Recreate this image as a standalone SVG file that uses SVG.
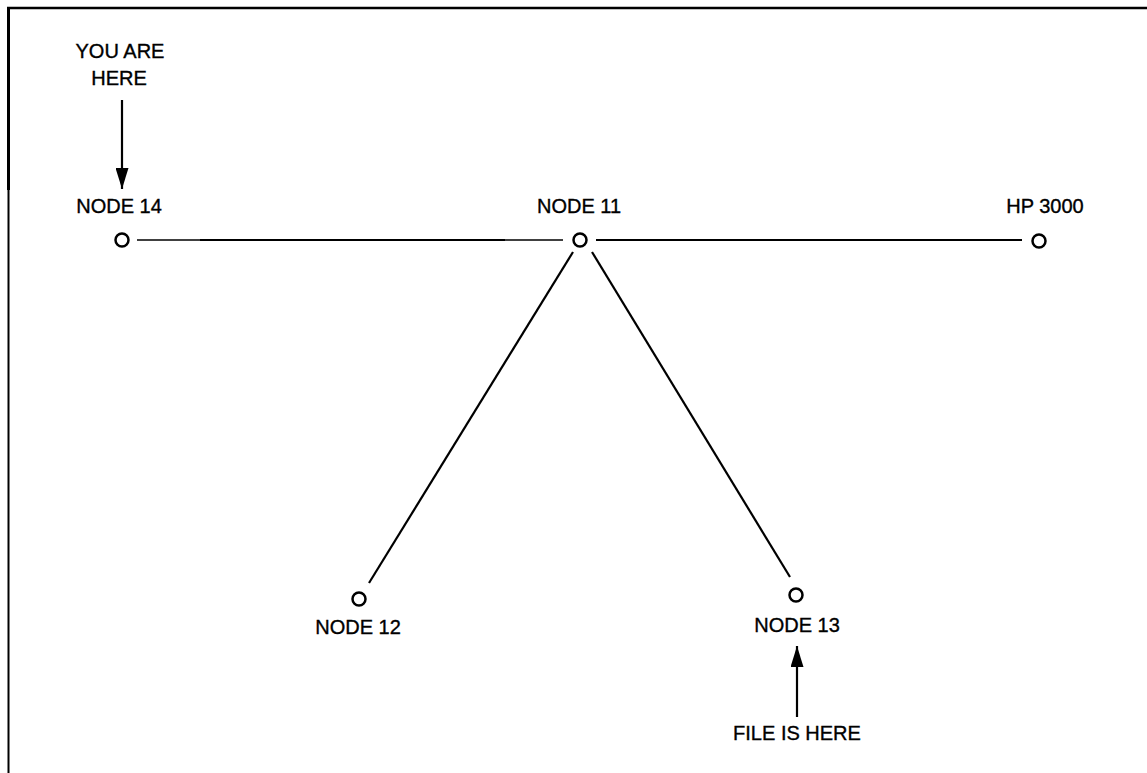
<svg xmlns="http://www.w3.org/2000/svg" width="1147" height="773" viewBox="0 0 1147 773">
  <style>
    .lbl { font-family: "Liberation Sans", Arial, sans-serif; font-size: 20px; fill: #000; stroke: #000; stroke-width: 0.35; text-anchor: middle; }
    .node { fill: #fff; stroke: #000; stroke-width: 2.5; }
    .link { stroke: #000; stroke-width: 2.2; fill: none; }
    .thin { stroke: #000; stroke-width: 1.3; fill: none; }
    .frame { stroke: #000; fill: none; }
  </style>
  <defs>
    <marker id="arrowhead" markerWidth="21" markerHeight="13" refX="21" refY="6.5" orient="auto" markerUnits="userSpaceOnUse" viewBox="0 0 21 13">
      <path d="M0,0 L21,6.5 L0,13 Z" fill="#000"/>
    </marker>
  </defs>
  <rect width="1147" height="773" fill="#fff"/>

  <!-- page frame -->
  <g id="frame">
    <line class="frame" x1="7" y1="8" x2="1147" y2="8" stroke-width="2.5"/>
    <line class="frame" x1="8.5" y1="7" x2="8.5" y2="190" stroke-width="3"/>
    <line class="frame" x1="8.5" y1="190" x2="8.5" y2="773" stroke-width="2"/>
  </g>

  <!-- network links -->
  <g id="connectors">
    <line class="thin" x1="137" y1="240" x2="200" y2="240"/>
    <line class="link" x1="200" y1="240" x2="505" y2="240"/>
    <line class="thin" x1="505" y1="240" x2="563" y2="240"/>
    <line class="link" x1="596" y1="240" x2="1022" y2="240"/>
    <line class="link" x1="573" y1="252" x2="369" y2="583"/>
    <line class="link" x1="592" y1="252" x2="790" y2="577"/>
    <line class="link" x1="122" y1="100" x2="122" y2="189" marker-end="url(#arrowhead)"/>
    <line class="link" x1="797" y1="717" x2="797" y2="646" marker-end="url(#arrowhead)"/>
  </g>

  <g id="you-are-here">
    <text class="lbl" x="120" y="58">YOU ARE</text>
    <text class="lbl" x="119" y="85">HERE</text>
  </g>

  <g id="node14">
    <circle class="node" cx="122" cy="240" r="6.5"/>
    <text class="lbl" x="119" y="213">NODE 14</text>
  </g>

  <g id="node11">
    <circle class="node" cx="580" cy="240" r="6.5"/>
    <text class="lbl" x="579" y="213">NODE 11</text>
  </g>

  <g id="hp3000">
    <circle class="node" cx="1039" cy="241" r="6.5"/>
    <text class="lbl" x="1045" y="213">HP 3000</text>
  </g>

  <g id="node12">
    <circle class="node" cx="359" cy="599" r="6.5"/>
    <text class="lbl" x="358" y="634">NODE 12</text>
  </g>

  <g id="node13">
    <circle class="node" cx="796" cy="595" r="6.5"/>
    <text class="lbl" x="797" y="632">NODE 13</text>
  </g>

  <g id="file-is-here">
    <text class="lbl" x="797" y="740">FILE IS HERE</text>
  </g>
</svg>
